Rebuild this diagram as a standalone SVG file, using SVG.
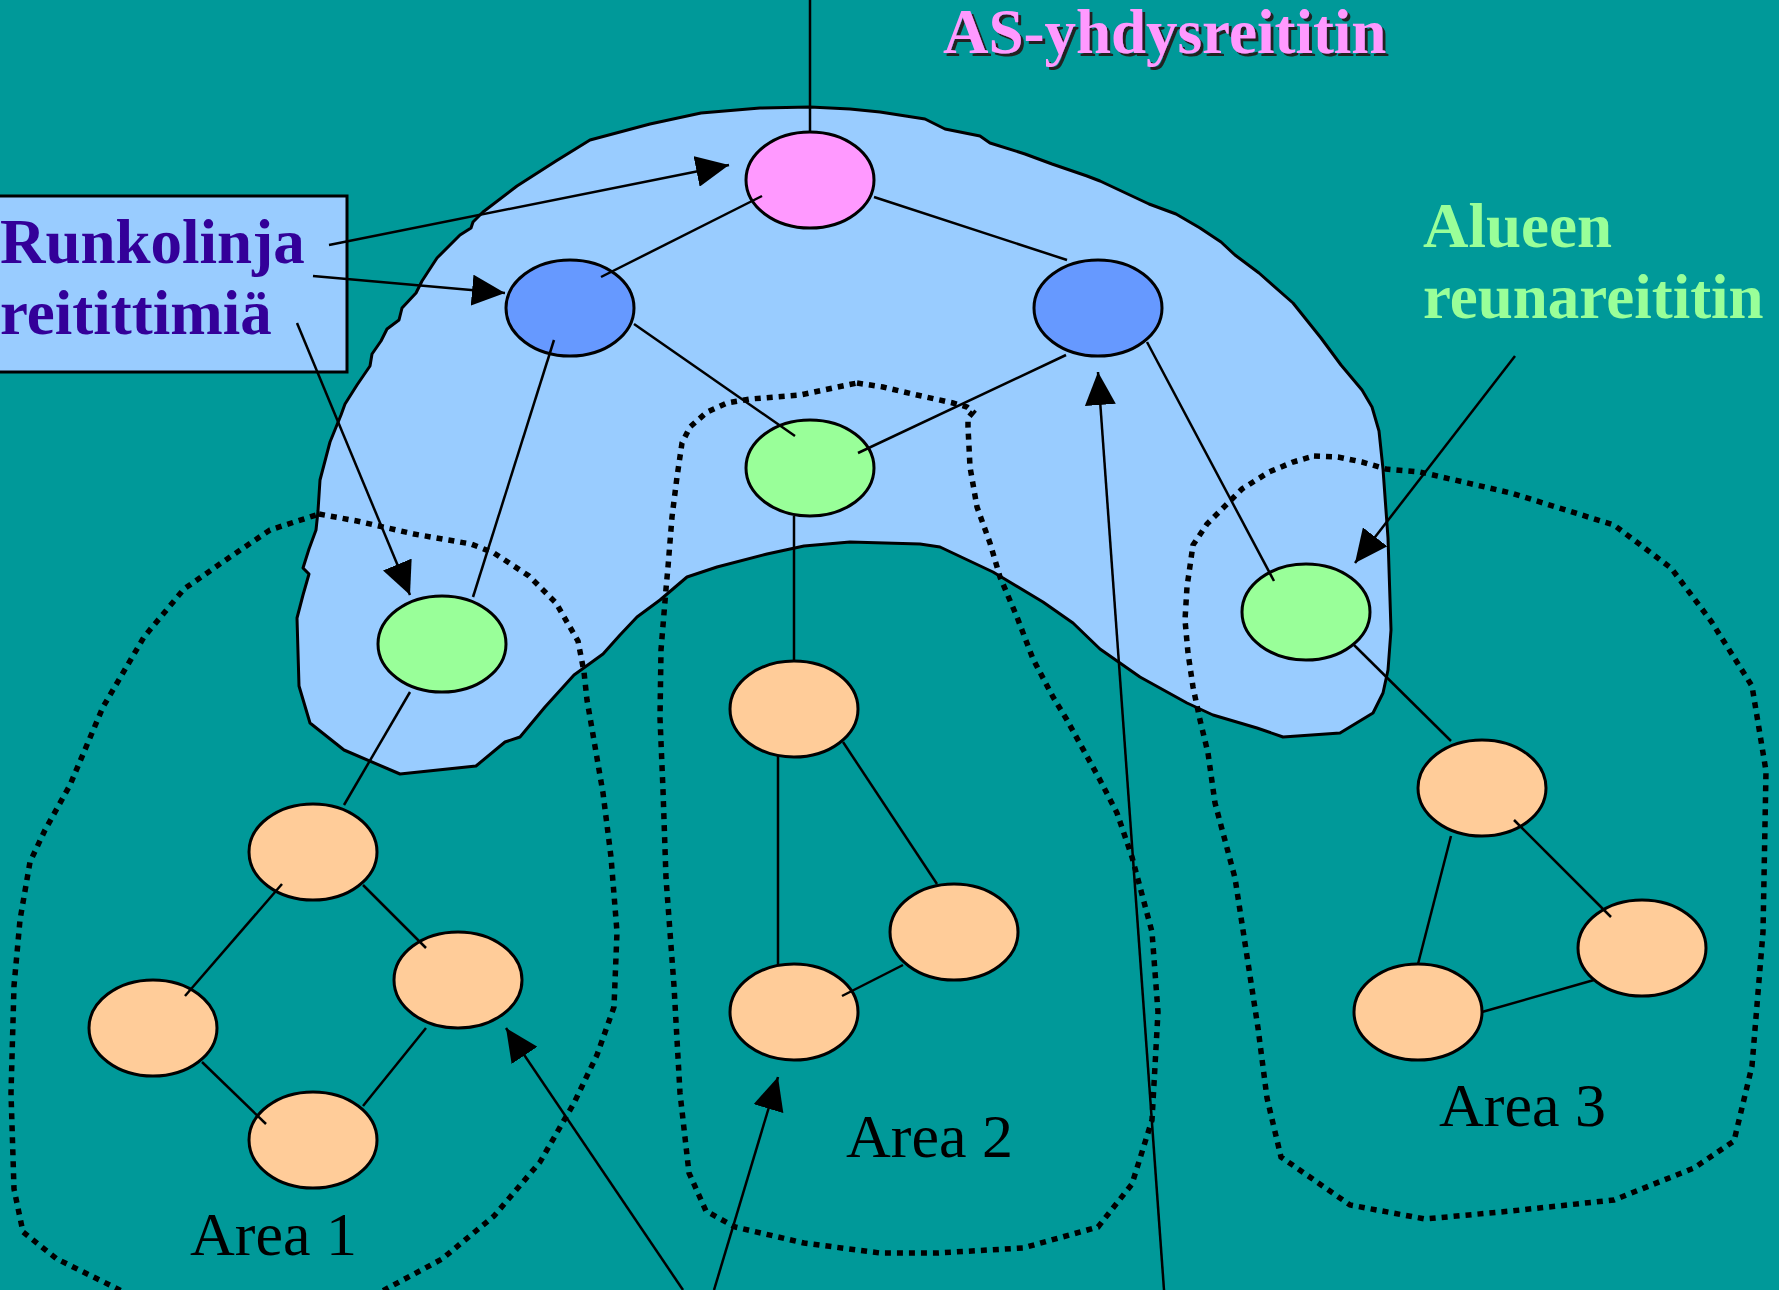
<svg xmlns="http://www.w3.org/2000/svg" width="1779" height="1290" viewBox="0 0 1779 1290">
<defs>
<style>
.cloud{fill:#99ccff;stroke:#000;stroke-width:3;stroke-linejoin:round}
.area{fill:none;stroke:#000;stroke-width:5.5;stroke-dasharray:6 6}
.n{stroke:#000;stroke-width:3}
.pink{fill:#ff99ff}.blue{fill:#6699ff}.green{fill:#99ff99}.orange{fill:#ffcc99}
.ln{stroke:#000;stroke-width:2.5;fill:none}
.ar{stroke:#000;stroke-width:2.5;fill:none;marker-end:url(#ah)}
.bold{font-family:"Liberation Serif","Times New Roman",serif;font-weight:bold;font-size:63px}
.reg{font-family:"Liberation Serif","Times New Roman",serif;font-size:62px;fill:#000}
</style>
<marker id="ah" viewBox="0 0 10 10" refX="10" refY="5" markerWidth="33" markerHeight="31" markerUnits="userSpaceOnUse" orient="auto" preserveAspectRatio="none"><path d="M0,0 L10,5 L0,10 z" fill="#000"/></marker>
<filter id="sh" x="-5%" y="-20%" width="110%" height="150%"><feOffset in="SourceAlpha" dx="3" dy="3" result="o"/><feFlood flood-color="#222"/><feComposite in2="o" operator="in" result="s"/><feMerge><feMergeNode in="s"/><feMergeNode in="SourceGraphic"/></feMerge></filter>
</defs>
<rect x="0" y="0" width="1779" height="1290" fill="#009999"/>
<g id="backbone">
<path class="cloud" d="M701,113 L760,108 L810,107 L850,109 L880,112 L925,119 L945,129 L980,136 L990,143 L1025,154 L1052,164 L1087,176 L1100,181 L1149,204 L1176,214 L1200,228 L1221,242 L1235,255 L1259,273 L1293,303 L1321,338 L1341,365 L1362,390 L1372,407 L1379,431 L1383,469 L1388,538 L1391,630 L1388,670 L1383,693 L1373,713 L1340,733 L1283,737 L1257,728 L1213,715 L1187,703 L1140,677 L1100,649 L1073,623 L1043,602 L993,572 L940,547 L920,544 L850,542 L804,546 L767,554 L717,567 L687,577 L660,600 L637,617 L620,635 L603,654 L574,675 L545,707 L520,737 L505,742 L476,766 L400,774 L344,750 L310,723 L299,686 L297,618 L303,595 L309,574 L303,568 L309,549 L316,530 L318,511 L320,480 L330,442 L341,415 L345,404 L357,385 L370,366 L372,354 L381,341 L387,329 L399,320 L402,308 L416,293 L422,281 L437,258 L460,235 L471,228 L473,222 L483,212 L517,186 L556,161 L590,140 L650,124 Z"/>
</g>
<g id="label-box">
<rect x="-5" y="196" width="352" height="176" fill="#99ccff" stroke="#000" stroke-width="3"/>
<text class="bold" x="0" y="263" fill="#330099">Runkolinja</text>
<text class="bold" x="0" y="334" fill="#330099">reitittimiä</text>
</g>
<g id="areas">
<path id="area1-outline" class="area" d="M319,514 L357,521 L414,534 L471,544 L494,553 L529,576 L556,603 L578,641 L584,672 L587,700 L591,723 L603,793 L611,857 L617,932 L614,1007 L597,1055 L574,1103 L540,1162 L494,1216 L442,1259 L373,1296 L250,1320 L132,1296 L57,1259 L23,1232 L14,1189 L11,1093 L14,986 L20,920 L30,862 L45,830 L70,785 L103,707 L144,637 L184,589 L230,557 L270,530 Z"/>
<path id="area2-outline" class="area" d="M857,383 L883,387 L917,395 L953,403 L967,407 L973,412 L968,418 L968,427 L970,467 L977,507 L990,543 L1000,577 L1017,617 L1033,659 L1053,697 L1067,720 L1100,780 L1117,813 L1132,857 L1152,932 L1158,1012 L1152,1120 L1132,1184 L1098,1227 L1023,1248 L937,1253 L880,1253 L804,1243 L735,1227 L706,1211 L689,1173 L680,1093 L674,986 L666,878 L663,790 L660,718 L661,650 L666,589 L668,567 L672,517 L677,477 L682,443 L690,427 L707,412 L727,403 L750,399 L800,395 L833,388 Z"/>
<path id="area3-outline" class="area" d="M1314,456 L1338,457 L1362,462 L1386,469 L1420,472 L1511,493 L1614,525 L1671,568 L1711,621 L1752,686 L1766,771 L1763,932 L1752,1066 L1734,1141 L1694,1168 L1614,1200 L1511,1211 L1425,1219 L1350,1205 L1281,1157 L1267,1098 L1258,1028 L1235,878 L1215,803 L1208,753 L1200,720 L1193,687 L1188,653 L1185,620 L1187,587 L1193,545 L1207,524 L1224,507 L1242,489 L1269,472 L1293,462 Z"/>
</g>
<g id="as-router"><ellipse class="n pink" cx="810" cy="180" rx="64" ry="48"/></g>
<g id="backbone-left"><ellipse class="n blue" cx="570" cy="308" rx="64" ry="48"/></g>
<g id="backbone-right"><ellipse class="n blue" cx="1098" cy="308" rx="64" ry="48"/></g>
<g id="abr-center"><ellipse class="n green" cx="810" cy="468" rx="64" ry="48"/></g>
<g id="abr-left"><ellipse class="n green" cx="442" cy="644" rx="64" ry="48"/></g>
<g id="abr-right"><ellipse class="n green" cx="1306" cy="612" rx="64" ry="48"/></g>
<g id="a1-top"><ellipse class="n orange" cx="313" cy="852" rx="64" ry="48"/></g>
<g id="a1-left"><ellipse class="n orange" cx="153" cy="1028" rx="64" ry="48"/></g>
<g id="a1-right"><ellipse class="n orange" cx="458" cy="980" rx="64" ry="48"/></g>
<g id="a1-bottom"><ellipse class="n orange" cx="313" cy="1140" rx="64" ry="48"/></g>
<g id="a2-top"><ellipse class="n orange" cx="794" cy="709" rx="64" ry="48"/></g>
<g id="a2-right"><ellipse class="n orange" cx="954" cy="932" rx="64" ry="48"/></g>
<g id="a2-bottom"><ellipse class="n orange" cx="794" cy="1012" rx="64" ry="48"/></g>
<g id="a3-top"><ellipse class="n orange" cx="1482" cy="788" rx="64" ry="48"/></g>
<g id="a3-right"><ellipse class="n orange" cx="1642" cy="948" rx="64" ry="48"/></g>
<g id="a3-bottom"><ellipse class="n orange" cx="1418" cy="1012" rx="64" ry="48"/></g>
<g id="connectors">
<line class="ln" x1="810" y1="0" x2="810" y2="132"/>
<line class="ln" x1="762" y1="196" x2="601" y2="277"/>
<line class="ln" x1="874" y1="197" x2="1067" y2="260"/>
<line class="ln" x1="634" y1="324" x2="795" y2="436"/>
<line class="ln" x1="554" y1="340" x2="473" y2="597"/>
<line class="ln" x1="1066" y1="355" x2="858" y2="453"/>
<line class="ln" x1="1147" y1="342" x2="1274" y2="581"/>
<line class="ln" x1="794" y1="516" x2="794" y2="660"/>
<line class="ln" x1="410" y1="692" x2="344" y2="805"/>
<line class="ln" x1="1354" y1="645" x2="1451" y2="741"/>
<line class="ln" x1="282" y1="884" x2="185" y2="996"/>
<line class="ln" x1="363" y1="885" x2="426" y2="948"/>
<line class="ln" x1="202" y1="1062" x2="266" y2="1124"/>
<line class="ln" x1="426" y1="1028" x2="363" y2="1106"/>
<line class="ln" x1="778" y1="755" x2="778" y2="964"/>
<line class="ln" x1="843" y1="742" x2="937" y2="884"/>
<line class="ln" x1="842" y1="996" x2="903" y2="965"/>
<line class="ln" x1="1451" y1="836" x2="1418" y2="964"/>
<line class="ln" x1="1514" y1="820" x2="1611" y2="917"/>
<line class="ln" x1="1482" y1="1012" x2="1594" y2="980"/>
<line class="ar" x1="329" y1="245" x2="729" y2="165"/>
<line class="ar" x1="313" y1="276" x2="505" y2="293"/>
<line class="ar" x1="297" y1="323" x2="410" y2="595"/>
<line class="ar" x1="1515" y1="356" x2="1355" y2="563"/>
<line class="ar" x1="683" y1="1290" x2="506" y2="1028"/>
<line class="ar" x1="714" y1="1290" x2="778" y2="1077"/>
<line class="ar" x1="1164" y1="1290" x2="1098" y2="372"/>
</g>
<g id="labels">
<text class="bold" x="943" y="53" fill="#ff99ff" filter="url(#sh)">AS-yhdysreititin</text>
<text class="bold" x="1423" y="247" fill="#99ff99">Alueen</text>
<text class="bold" x="1423" y="318" fill="#99ff99">reunareititin</text>
<text class="reg" x="190" y="1255">Area 1</text>
<text class="reg" x="846" y="1157">Area 2</text>
<text class="reg" x="1439" y="1126">Area 3</text>
</g>
</svg>
